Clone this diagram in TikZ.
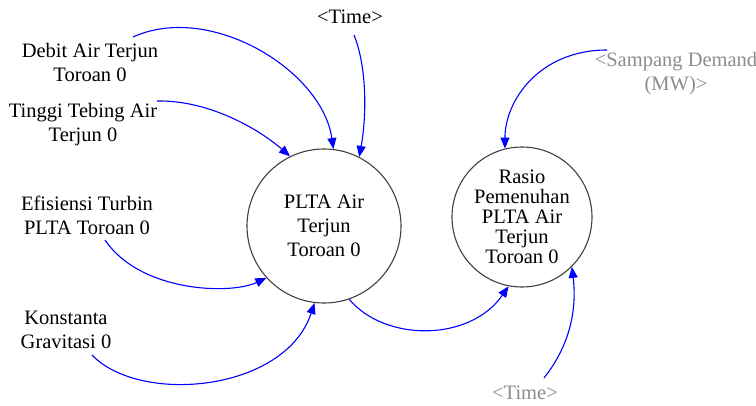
\documentclass[tikz,border=0pt]{standalone}
\usepackage{fontspec}
\setmainfont{Liberation Serif}
\usetikzlibrary{arrows.meta,calc}
\begin{document}
\begin{tikzpicture}[x=1pt,y=-1pt,
  lbl/.style={align=center,font=\fontsize{20.5}{24}\selectfont,inner sep=0pt},
  shadowvar/.style={lbl,text=black!45},
  varcirc/.style={circle,draw=black!75,line width=1.1pt,inner sep=0pt,align=center},
  link/.style={draw=blue,line width=1.1pt,-{Triangle[length=11pt,width=9pt]}}]
\useasboundingbox (0,0) rectangle (756,405);
\node[varcirc,minimum size=154pt,font=\fontsize{20.5}{24}\selectfont] (plta) at (324,226) {PLTA Air\\Terjun\\Toroan 0};
\node[varcirc,minimum size=140pt,font=\fontsize{20.5}{20}\selectfont] (rasio) at (522,217) {Rasio\\Pemenuhan\\PLTA Air\\Terjun\\Toroan 0};
\node[lbl] (debit) at (90,62) {Debit Air Terjun\\Toroan 0};
\node[lbl] (tinggi) at (83,125) {Tinggi Tebing Air\\Terjun 0};
\node[lbl] (efis) at (87,215) {Efisiensi Turbin\\PLTA Toroan 0};
\node[lbl] (konst) at (66,330) {Konstanta\\Gravitasi 0};
\node[lbl] (time1) at (350,17) {<Time>};
\node[shadowvar] (demand) at (676,74) {<Sampang Demand\\(MW)>};
\node[shadowvar] (time2) at (525,393) {<Time>};
\draw[link] ($(debit)+(43,-25)$) .. controls (210,2) and (322,70) .. (plta.83);
\draw[link] ($(tinggi)+(74,-24)$) .. controls (210,100) and (260,130) .. (plta.116);
\draw[link] ($(time1)+(4,18)$) .. controls (368,70) and (366,120) .. (plta.63);
\draw[link] ($(efis)+(18,25)$) .. controls (140,292) and (230,295) .. (plta.222);
\draw[link] ($(konst)+(26,25)$) .. controls (140,405) and (285,392) .. (plta.263);
\draw[link] (plta.289) .. controls (385,342) and (470,342) .. (rasio.259);
\draw[link] ($(demand)+(-69,-24)$) .. controls (540,50) and (505,100) .. (rasio.104);
\draw[link] ($(time2)+(19,-15)$) .. controls (570,345) and (577,310) .. (rasio.315);
\end{tikzpicture}
\end{document}
